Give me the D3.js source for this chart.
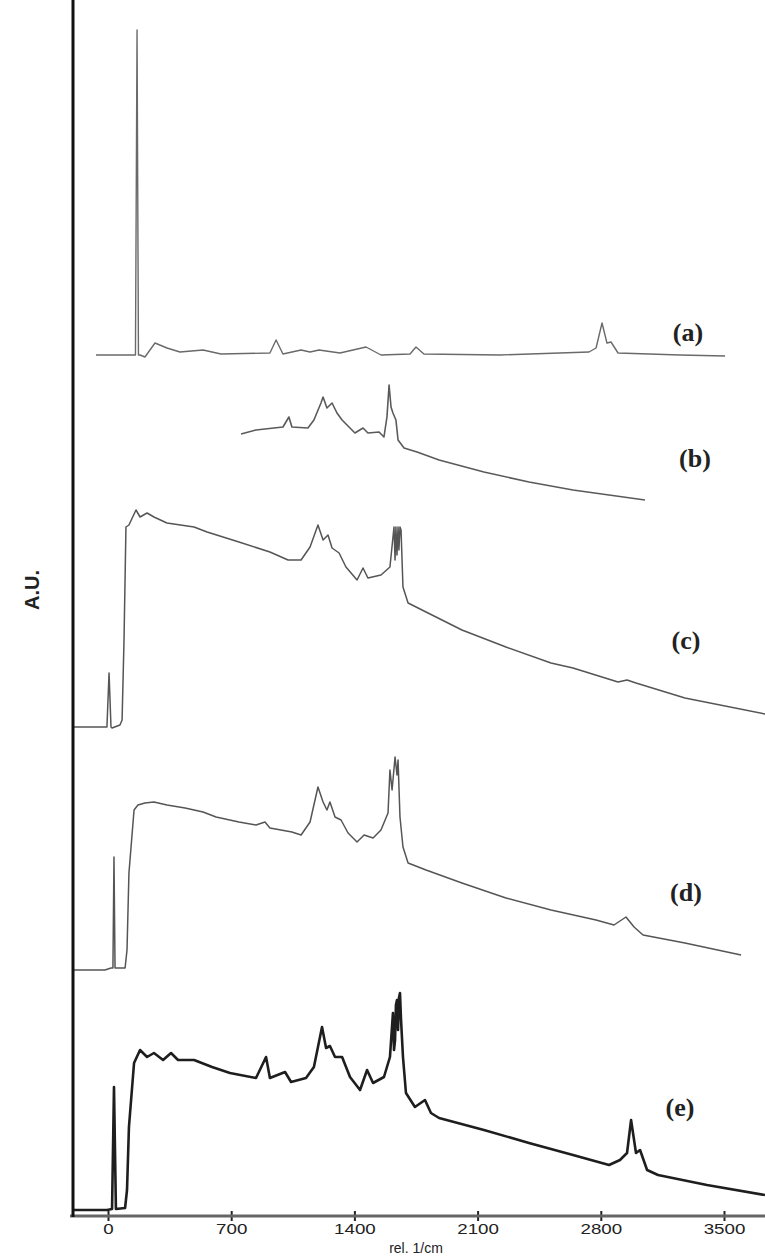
<!DOCTYPE html>
<html><head><meta charset="utf-8">
<script src="https://cdn.jsdelivr.net/npm/d3@7/dist/d3.min.js"></script>
<style>html,body{margin:0;padding:0;background:#fff;}svg{display:block;}</style>
</head><body>
<svg id="chart" width="765" height="1257"></svg>
<script>
// ---- data (wavenumber in rel. 1/cm, intensity in A.U. above each trace's baseline) ----
const xTicks = [0, 700, 1400, 2100, 2800, 3500];
const seriesNames = ["(a)", "(b)", "(c)", "(d)", "(e)"];
const offsets = [861, 716, 489, 246, 6];

const waveA = [-68,148,156,165,173,182,210,267,335,409,540,642,920,955,994,1097,1148,1199,1318,1466,1551,1716,1750,1795,2227,2733,2773,2807,2835,2858,2898,3250,3506];
const intA  = [0,0,0,325,0,0,-2,12,7,3,5,1,2,15,1,5,3,5,2,8,0,1,8,1,0,3,7,32,12,13,2,0,-1];

const waveB = [756,841,994,1028,1045,1136,1170,1210,1222,1244,1273,1301,1330,1403,1449,1477,1540,1568,1585,1597,1608,1619,1636,1648,1682,1756,1881,2136,2392,2642,3051];
const intB  = [66,70,73,83,73,72,80,97,103,92,97,87,80,67,72,67,68,63,83,115,93,87,80,60,52,48,40,28,18,10,0];

const waveC = [-199,-11,-6,6,17,23,68,80,91,102,119,159,182,222,261,335,489,563,744,920,1023,1097,1148,1193,1222,1250,1273,1313,1352,1415,1449,1477,1551,1602,1625,1631,1636,1642,1648,1653,1659,1665,1676,1705,1807,2011,2261,2517,2642,2898,2949,3000,3278,3733];
const intC  = [0,0,0,54,0,-1,2,7,87,200,202,217,210,214,210,204,200,195,185,175,167,167,180,202,187,192,179,174,160,147,159,149,152,160,200,167,200,172,200,177,200,197,140,124,115,97,80,64,59,45,47,44,29,13];

const waveD = [-199,-17,17,28,34,40,97,108,119,148,170,210,261,335,438,540,614,744,841,892,920,1045,1097,1148,1193,1222,1244,1261,1290,1324,1364,1415,1455,1506,1551,1591,1602,1614,1631,1642,1648,1659,1676,1705,1807,2011,2261,2517,2773,2875,2943,2989,3040,3278,3597];
const intD  = [0,0,2,2,113,2,2,20,97,160,165,167,168,165,162,158,153,148,145,148,142,138,135,148,183,168,160,168,153,150,137,128,135,132,140,157,200,180,213,195,210,153,123,107,100,87,72,60,50,45,53,43,35,27,15];

const waveE = [-199,-6,23,34,45,97,108,119,148,182,222,261,313,358,398,489,591,693,841,898,920,1006,1040,1125,1170,1216,1239,1261,1290,1330,1375,1432,1472,1506,1568,1602,1619,1625,1631,1636,1642,1648,1653,1659,1665,1676,1693,1744,1801,1835,1881,2136,2392,2642,2847,2909,2949,2972,3000,3023,3063,3125,3403,3733];
const intE  = [0,0,1,123,1,2,20,83,147,160,153,157,150,157,150,150,143,137,132,153,132,138,128,132,143,183,162,164,153,153,133,120,140,127,133,153,197,160,170,205,210,180,212,217,190,153,117,103,110,97,92,80,67,55,45,50,57,90,57,60,40,35,25,15];

const waves = [waveA, waveB, waveC, waveD, waveE];
const ints  = [intA, intB, intC, intD, intE];

// ---- layout ----
const svg = d3.select("#chart");
const x = d3.scaleLinear().domain([0, 3500]).range([108, 724]);
const y = d3.scaleLinear().domain([0, 1216]).range([1216, 0]);
const axisY = 1216, axisX = 73;

const styles = [
  {stroke:"#6a6a6a", w:1.4},
  {stroke:"#5a5a5a", w:1.6},
  {stroke:"#555", w:1.5},
  {stroke:"#555", w:1.5},
  {stroke:"#1e1e1e", w:2.6}
];
const labelPos = [[688,332],[695,458],[686,640],[686,892],[680,1107]];

const line = d3.line().x(d => x(d[0])).y(d => y(d[1]));

waves.forEach((w, i) => {
  const pts = w.map((v, j) => [v, ints[i][j] + offsets[i]]);
  svg.append("path").datum(pts)
    .attr("d", line)
    .attr("fill", "none")
    .attr("stroke", styles[i].stroke)
    .attr("stroke-width", styles[i].w)
    .attr("stroke-linejoin", "round");
  svg.append("text")
    .attr("x", labelPos[i][0]).attr("y", labelPos[i][1])
    .attr("text-anchor", "middle").attr("dominant-baseline", "central")
    .attr("font-family", "Liberation Serif, serif").attr("font-weight", "bold")
    .attr("font-size", 26).attr("fill", "#222")
    .text(seriesNames[i]);
});

// x axis
const xAxis = d3.axisBottom(x).tickValues(xTicks).tickSize(0).tickPadding(10).tickFormat(d3.format("d"));
const gx = svg.append("g").attr("transform", `translate(0,${axisY})`).call(xAxis);
gx.select(".domain").remove();
gx.append("line").attr("x1", 70).attr("x2", 765).attr("y1", 0).attr("y2", 0)
  .attr("stroke", "#666").attr("stroke-width", 3);
gx.selectAll(".tick").append("line").attr("y1", -5).attr("y2", 5)
  .attr("stroke", "#222").attr("stroke-width", 2);
gx.selectAll(".tick text").attr("font-family", "Liberation Sans, Arial, sans-serif")
  .attr("font-size", 15).attr("fill", "#222").attr("dy", "0.55em")
  .attr("transform", "scale(1.25,1)");

svg.append("text").attr("x", 416).attr("y", 1248)
  .attr("text-anchor", "middle").attr("dominant-baseline", "central")
  .attr("font-family", "Liberation Sans, Arial, sans-serif").attr("font-size", 14)
  .attr("fill", "#222").text("rel. 1/cm");

// y axis
svg.append("line").attr("x1", axisX).attr("x2", axisX).attr("y1", 0).attr("y2", axisY + 1)
  .attr("stroke", "#111").attr("stroke-width", 3);
svg.append("text")
  .attr("transform", "translate(32,590) rotate(-90)")
  .attr("text-anchor", "middle").attr("dominant-baseline", "central")
  .attr("font-family", "Liberation Sans, Arial, sans-serif").attr("font-weight", "bold")
  .attr("font-size", 20).attr("fill", "#222").text("A.U.");
</script>
</body></html>
